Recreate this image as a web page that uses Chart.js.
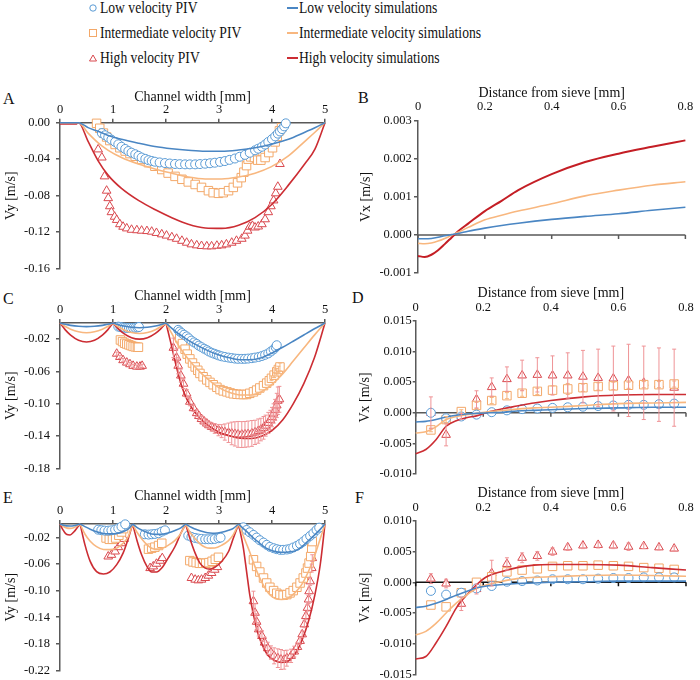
<!DOCTYPE html>
<html>
<head>
<meta charset="utf-8">
<script src="https://cdn.jsdelivr.net/npm/chart.js@4.4.1/dist/chart.umd.min.js"></script>
<style>
  body { margin: 0; background: #fff; overflow: hidden; font-family: 'Liberation Serif', 'Times New Roman', serif; }
  #wrap { position: relative; width: 700px; height: 680px; }
  canvas { position: absolute; }
  .txt { position: absolute; font-size: 16px; line-height: 18px; white-space: nowrap; color: #111; transform: scaleX(0.85); transform-origin: 0 50%; }
  .lab { position: absolute; font-size: 16px; line-height: 18px; color: #111; }
  .mk { position: absolute; }
</style>
</head>
<body>
<div id="wrap">
  <!-- shared legend -->
  <svg class="mk" style="left:88px;top:3px" width="10" height="10"><circle cx="5" cy="5" r="3.2" fill="#fff" stroke="#5a9bd5" stroke-width="1"/></svg>
  <svg class="mk" style="left:88px;top:28px" width="10" height="10"><rect x="1.5" y="1.5" width="7" height="7" fill="#fff" stroke="#f3a869" stroke-width="1"/></svg>
  <svg class="mk" style="left:88px;top:53px" width="10" height="10"><polygon points="5,2 8.5,8 1.5,8" fill="#fff" stroke="#d9484e" stroke-width="1"/></svg>
  <div class="txt" style="left:100px;top:-1px">Low velocity PIV</div>
  <div class="txt" style="left:100px;top:24px">Intermediate velocity PIV</div>
  <div class="txt" style="left:100px;top:49px">High velocity PIV</div>
  <div class="mk" style="left:287px;top:7px;width:11px;height:1.5px;background:#4a86c3"></div>
  <div class="mk" style="left:287px;top:32px;width:11px;height:1.5px;background:#f8b77f"></div>
  <div class="mk" style="left:287px;top:57px;width:11px;height:1.5px;background:#cc2d33"></div>
  <div class="txt" style="left:299px;top:-1px">Low velocity simulations</div>
  <div class="txt" style="left:299px;top:24px">Intermediate velocity simulations</div>
  <div class="txt" style="left:299px;top:49px">High velocity simulations</div>

  <div class="lab" style="left:3px;top:90px">A</div>
  <div class="lab" style="left:358px;top:89px">B</div>
  <div class="lab" style="left:3px;top:290px">C</div>
  <div class="lab" style="left:352px;top:289px">D</div>
  <div class="lab" style="left:3px;top:489px">E</div>
  <div class="lab" style="left:355px;top:489px">F</div>

  <canvas id="cA" width="340" height="200" style="left:0;top:82px"></canvas>
  <canvas id="cB" width="350" height="203" style="left:350px;top:80px"></canvas>
  <canvas id="cC" width="340" height="200" style="left:0;top:282px"></canvas>
  <canvas id="cD" width="350" height="201" style="left:350px;top:283px"></canvas>
  <canvas id="cE" width="340" height="200" style="left:0;top:484px"></canvas>
  <canvas id="cF" width="350" height="200" style="left:350px;top:484px"></canvas>
</div>
<script>
// ---- Panel A: single channel, Vy across channel width ----
const aXTicks = [0, 1, 2, 3, 4, 5];
const aYTicks = [-0.16, -0.12, -0.08, -0.04, 0];
const aSimX = [0, 0.3, 0.35, 0.53, 0.72, 0.91, 1.16, 1.48, 1.79, 2.11, 2.42, 2.74, 3.05, 3.37, 3.68, 3.99, 4.31, 4.62, 4.81, 5];
const aLowSimY = [0, 0, 0, -0.0054, -0.0095, -0.014, -0.0182, -0.0225, -0.0261, -0.0286, -0.0303, -0.0314, -0.0314, -0.03, -0.0275, -0.0236, -0.0182, -0.0104, -0.0055, 0];
const aMidSimY = [0, 0, 0, -0.0114, -0.0221, -0.0303, -0.0382, -0.0453, -0.0507, -0.0554, -0.0596, -0.0618, -0.0618, -0.0596, -0.0554, -0.0482, -0.0364, -0.0204, -0.0105, 0];
const aHighSimY = [-0.0015, -0.0015, 0, -0.0204, -0.0418, -0.0578, -0.0721, -0.0853, -0.0953, -0.1042, -0.1114, -0.1155, -0.116, -0.1125, -0.1042, -0.09, -0.0685, -0.045, -0.029, 0];
const aLowPivX = [0.79, 0.85, 0.91, 0.97, 1.04, 1.10, 1.16, 1.23, 1.29, 1.35, 1.42, 1.48, 1.54, 1.61, 1.67, 1.73, 1.79, 1.88, 1.98, 2.07, 2.17, 2.26, 2.36, 2.45, 2.55, 2.64, 2.74, 2.83, 2.92, 3.02, 3.11, 3.20, 3.30, 3.39, 3.49, 3.58, 3.68, 3.74, 3.81, 3.87, 3.93, 4.00, 4.06, 4.11, 4.15, 4.19, 4.23, 4.26];
const aLowPivY = [-0.0114, -0.0138, -0.0161, -0.0186, -0.0211, -0.0237, -0.0264, -0.0288, -0.0311, -0.0329, -0.0346, -0.0364, -0.0382, -0.0397, -0.0411, -0.042, -0.0428, -0.0436, -0.0443, -0.0448, -0.0453, -0.0455, -0.0457, -0.0457, -0.0457, -0.0454, -0.045, -0.0445, -0.0439, -0.043, -0.0421, -0.0408, -0.0393, -0.0374, -0.0353, -0.033, -0.0303, -0.0285, -0.0264, -0.024, -0.0211, -0.018, -0.015, -0.012, -0.0096, -0.007, -0.004, -0.0007];
const aMidPivX = [0.69, 0.75, 0.82, 0.88, 0.94, 1.04, 1.13, 1.23, 1.32, 1.42, 1.54, 1.67, 1.79, 1.92, 2.04, 2.17, 2.30, 2.42, 2.55, 2.67, 2.80, 2.89, 2.99, 3.08, 3.18, 3.27, 3.35, 3.42, 3.47, 3.52, 3.55, 3.60, 3.67, 3.73, 3.79, 3.87, 3.94, 4.01, 4.06, 4.10, 4.14, 4.18];
const aMidPivY = [-0.0007, -0.0061, -0.0114, -0.0157, -0.0196, -0.0239, -0.0275, -0.0311, -0.0339, -0.0368, -0.0403, -0.0439, -0.0478, -0.0514, -0.0553, -0.0589, -0.0621, -0.065, -0.0678, -0.071, -0.0746, -0.0768, -0.0775, -0.0768, -0.0746, -0.071, -0.066, -0.0603, -0.0543, -0.0471, -0.04, -0.0375, -0.0382, -0.0411, -0.0411, -0.0382, -0.0328, -0.0275, -0.0211, -0.015, -0.0089, -0.0054];
const aHighPivX = [0.72, 0.79, 0.84, 0.88, 0.91, 0.94, 0.97, 1.03, 1.07, 1.13, 1.19, 1.26, 1.35, 1.45, 1.54, 1.64, 1.73, 1.82, 1.92, 2.01, 2.11, 2.20, 2.30, 2.39, 2.48, 2.58, 2.67, 2.77, 2.86, 2.96, 3.05, 3.14, 3.24, 3.33, 3.43, 3.49, 3.54, 3.58, 3.63, 3.68, 3.74, 3.81, 3.87, 3.93, 3.98, 4.03, 4.07, 4.11, 4.15];
const aHighPivY = [-0.0293, -0.0382, -0.0589, -0.0746, -0.0828, -0.0917, -0.0982, -0.1032, -0.1067, -0.1114, -0.1142, -0.116, -0.1175, -0.118, -0.1185, -0.1189, -0.1196, -0.121, -0.1225, -0.1239, -0.1257, -0.1274, -0.1296, -0.1317, -0.1335, -0.1346, -0.1353, -0.1357, -0.1357, -0.135, -0.1346, -0.1335, -0.1317, -0.1296, -0.1274, -0.1239, -0.1185, -0.1142, -0.1132, -0.115, -0.1139, -0.1114, -0.106, -0.0982, -0.0917, -0.0853, -0.0775, -0.0703, -0.0453];

// ---- Panel B: Vx vs distance from sieve (simulations only) ----
const bXTicks = [0, 0.2, 0.4, 0.6, 0.8];
const bYTicks = [-0.001, 0, 0.001, 0.002, 0.003];
const bSimX = [0, 0.02, 0.04, 0.06, 0.08, 0.1, 0.12, 0.15, 0.2, 0.25, 0.3, 0.4, 0.5, 0.6, 0.7, 0.8];
const bLowSimY = [-0.0001, -0.0001, -0.00009, -0.00006, -0.00002, 0.00001, 0.00004, 0.0001, 0.00018, 0.00025, 0.00031, 0.00041, 0.00049, 0.00056, 0.00065, 0.00073];
const bMidSimY = [-0.00022, -0.00023, -0.00021, -0.00016, -0.00009, -0.00001, 0.00007, 0.0002, 0.0004, 0.00052, 0.00063, 0.00082, 0.00103, 0.00118, 0.00131, 0.0014];
const bHighSimY = [-0.00055, -0.00058, -0.00052, -0.0004, -0.00024, -0.00007, 0.0001, 0.0003, 0.00063, 0.0009, 0.00118, 0.0016, 0.00192, 0.00214, 0.00232, 0.00249];

// ---- Panel C: three channels ----
const cYTicks = [-0.18, -0.14, -0.10, -0.06, -0.02];
const cSimX = [0, 0.1, 0.2, 0.35, 0.5, 0.65, 0.8, 0.9, 1, 1, 1, 1.1, 1.2, 1.35, 1.5, 1.65, 1.8, 1.9, 2, 2, 2, 2.1, 2.2, 2.3, 2.4, 2.6, 2.8, 3.0, 3.2, 3.4, 3.6, 3.8, 4.0, 4.2, 4.4, 4.6, 4.8, 5];
const cLowSimY = [0, -0.0016, -0.0029, -0.0041, -0.0045, -0.0041, -0.0029, -0.0016, 0, null, 0, -0.0021, -0.0037, -0.0053, -0.0058, -0.0053, -0.0037, -0.0021, 0, null, 0, -0.006, -0.0115, -0.016, -0.0205, -0.028, -0.0345, -0.0395, -0.043, -0.0455, -0.0455, -0.043, -0.037, -0.03, -0.0225, -0.0148, -0.0072, 0];
const cMidSimY = [0, -0.0043, -0.0077, -0.0109, -0.012, -0.0109, -0.0077, -0.0043, 0, null, 0, -0.0047, -0.0083, -0.0118, -0.013, -0.0118, -0.0083, -0.0047, 0, null, 0, -0.012, -0.024, -0.034, -0.043, -0.058, -0.07, -0.08, -0.086, -0.089, -0.089, -0.085, -0.076, -0.063, -0.047, -0.031, -0.015, 0];
const cHighSimY = [0, -0.0085, -0.015, -0.0214, -0.0235, -0.0214, -0.015, -0.0085, 0, null, 0, -0.0072, -0.0128, -0.0182, -0.02, -0.0182, -0.0128, -0.0072, 0, null, 0, -0.027, -0.055, -0.079, -0.095, -0.115, -0.127, -0.135, -0.1395, -0.1425, -0.1428, -0.14, -0.133, -0.12, -0.1, -0.075, -0.043, 0];
const cLowPivX = [1.10, 1.14, 1.18, 1.22, 1.26, 1.30, 1.34, 1.38, 1.42, 1.46, 1.49,
  2.23, 2.26, 2.30, 2.34, 2.39, 2.43, 2.48, 2.53, 2.58, 2.62, 2.67, 2.72, 2.77, 2.81, 2.86, 2.91, 2.96, 3.00, 3.05, 3.11, 3.18, 3.24, 3.30, 3.36, 3.43, 3.49, 3.55, 3.62, 3.68, 3.75, 3.81, 3.87, 3.93, 3.98, 4.03, 4.07, 4.09];
const cLowPivY = [-0.0045, -0.005, -0.0055, -0.0058, -0.006, -0.006, -0.006, -0.006, -0.0058, -0.0055, -0.005,
  -0.0085, -0.0105, -0.0125, -0.0145, -0.0166, -0.019, -0.0218, -0.024, -0.0259, -0.028, -0.0299, -0.0318, -0.0335, -0.0352, -0.0368, -0.038, -0.0392, -0.0402, -0.0412, -0.042, -0.0428, -0.0434, -0.044, -0.0443, -0.0444, -0.0443, -0.044, -0.0435, -0.0428, -0.042, -0.0408, -0.0393, -0.0376, -0.0352, -0.0327, -0.03, -0.0275];
const cMidPivX = [1.14, 1.18, 1.22, 1.26, 1.30, 1.34, 1.38, 1.42, 1.46, 1.48,
  2.26, 2.31, 2.36, 2.40, 2.45, 2.50, 2.55, 2.60, 2.64, 2.70, 2.77, 2.83, 2.89, 2.96, 3.02, 3.08, 3.15, 3.21, 3.27, 3.34, 3.40, 3.46, 3.52, 3.58, 3.65, 3.71, 3.77, 3.84, 3.90, 3.95, 3.99, 4.04, 4.09, 4.12, 4.15];
const cMidPivY = [-0.021, -0.023, -0.025, -0.026, -0.027, -0.028, -0.029, -0.0295, -0.03, -0.03,
  -0.0184, -0.0255, -0.0324, -0.0385, -0.0444, -0.0495, -0.0544, -0.0585, -0.0624, -0.0665, -0.0704, -0.0735, -0.0764, -0.0795, -0.0824, -0.084, -0.0852, -0.0865, -0.0876, -0.0881, -0.0884, -0.0885, -0.0884, -0.087, -0.0852, -0.083, -0.0804, -0.0775, -0.0744, -0.0715, -0.0684, -0.0645, -0.0604, -0.0575, -0.0544];
const cMidErr = [0, 0, 0, 0, 0, 0, 0, 0, 0, 0, 0, 0, 0, 0, 0, 0, 0, 0, 0, 0, 0, 0, 0, 0, 0, 0, 0, 0, 0, 0, 0, 0, 0, 0, 0, 0, 0, 0, 0, 0, 0.003, 0.003, 0.004, 0.004, 0.005];
const cHighPivX = [1.07, 1.13, 1.19, 1.26, 1.32, 1.38, 1.45, 1.51, 1.55,
  2.14, 2.20, 2.23, 2.28, 2.33, 2.39, 2.45, 2.52, 2.58, 2.62, 2.67, 2.72, 2.77, 2.81, 2.86, 2.92, 2.99, 3.05, 3.11, 3.18, 3.24, 3.30, 3.36, 3.43, 3.49, 3.55, 3.62, 3.68, 3.74, 3.79, 3.84, 3.88, 3.93, 3.97, 4.00, 4.03, 4.06, 4.09, 4.11, 4.14];
const cHighPivY = [-0.038, -0.042, -0.046, -0.049, -0.051, -0.053, -0.054, -0.054, -0.053,
  -0.0307, -0.0428, -0.0529, -0.065, -0.0751, -0.0873, -0.0974, -0.1054, -0.1115, -0.115, -0.1188, -0.1218, -0.1244, -0.1265, -0.1285, -0.1305, -0.1325, -0.1338, -0.1349, -0.1358, -0.1366, -0.1372, -0.1378, -0.138, -0.1378, -0.1373, -0.1366, -0.1353, -0.1337, -0.1318, -0.1297, -0.127, -0.1236, -0.12, -0.1164, -0.112, -0.1075, -0.102, -0.0962, -0.0944];
const cHighErr = [0.002, 0.002, 0.002, 0.002, 0.002, 0.002, 0.002, 0.002, 0.002,
  0.012, 0.011, 0.01, 0.008, 0.006, 0.005, 0.005, 0.004, 0.004, 0.004, 0.004, 0.004, 0.004, 0.004, 0.005, 0.006, 0.007, 0.008, 0.01, 0.012, 0.014, 0.015, 0.016, 0.016, 0.016, 0.016, 0.016, 0.015, 0.015, 0.014, 0.014, 0.013, 0.013, 0.012, 0.012, 0.012, 0.013, 0.015, 0.017, 0.016];

// ---- Panel D ----
const dYTicks = [-0.01, -0.005, 0, 0.005, 0.01, 0.015];
const dPivX = [0.045, 0.09, 0.135, 0.18, 0.225, 0.27, 0.315, 0.36, 0.405, 0.45, 0.495, 0.54, 0.585, 0.63, 0.675, 0.72, 0.765];
const dLowPivY = [0, -0.0009, -0.0006, -0.0003, 0.0001, 0.0004, 0.0006, 0.0007, 0.0008, 0.0009, 0.001, 0.0011, 0.0012, 0.0013, 0.0013, 0.0014, 0.0015];
const dMidPivY = [-0.0028, -0.0011, 0.0002, 0.0012, 0.002, 0.0028, 0.0032, 0.0035, 0.0037, 0.0039, 0.0041, 0.0043, 0.0044, 0.0045, 0.0046, 0.0046, 0.0047];
const dHighPivY = [0, -0.0036, -0.0006, 0.0022, 0.0042, 0.0055, 0.0061, 0.0062, 0.0061, 0.0061, 0.0059, 0.0057, 0.0056, 0.0053, 0.0049, 0.0046, 0.0041];
const dMidErr = [0.0003, 0.0005, 0.0003, 0.0005, 0.0005, 0.0005, 0.0005, 0.0005, 0.0007, 0.0009, 0.0006, 0.0006, 0.0006, 0.0005, 0.0005, 0.0005, 0.0005];
const dHighErr = [0.0026, 0.0018, 0.0005, 0.0014, 0.0015, 0.002, 0.0025, 0.0028, 0.0032, 0.0037, 0.0043, 0.0047, 0.0053, 0.0059, 0.006, 0.006, 0.0063];
const dSimX = [0, 0.03, 0.06, 0.09, 0.12, 0.15, 0.18, 0.22, 0.26, 0.3, 0.35, 0.4, 0.5, 0.6, 0.7, 0.8];
const dLowSimY = [-0.0015, -0.0014, -0.0011, -0.0007, -0.0004, -0.0002, -0.0001, 0, 0.0001, 0.0003, 0.0004, 0.0005, 0.0007, 0.0008, 0.0009, 0.0009];
const dMidSimY = [-0.0033, -0.0031, -0.0023, -0.0011, -0.0006, -0.0003, -0.0001, 0.0002, 0.0004, 0.0006, 0.0008, 0.0009, 0.0012, 0.0015, 0.0016, 0.0017];
const dHighSimY = [-0.0067, -0.006, -0.0044, -0.0022, -0.0013, -0.0008, -0.0005, 0.0002, 0.0007, 0.0011, 0.0016, 0.002, 0.0026, 0.0029, 0.003, 0.003];

// ---- Panel E: five channels ----
const eYTicks = [-0.22, -0.18, -0.14, -0.10, -0.06, -0.02];
const eSimX = [0, 0.05, 0.12, 0.19, 0.26, 0.33, 0.38, 0.38,
  0.38, 0.47, 0.57, 0.69, 0.82, 0.94, 1.07, 1.19, 1.29, 1.37, 1.37,
  1.37, 1.45, 1.54, 1.64, 1.73, 1.82, 1.92, 2.04, 2.17, 2.28, 2.37, 2.37,
  2.37, 2.45, 2.55, 2.64, 2.74, 2.83, 2.92, 3.05, 3.18, 3.27, 3.37, 3.37,
  3.37, 3.46, 3.52, 3.58, 3.65, 3.74, 3.84, 3.93, 4.06, 4.18, 4.31, 4.43, 4.56, 4.69, 4.81, 4.91, 5];
const eLowSimY = [0, -0.0015, -0.0028, -0.003, -0.0026, -0.0012, 0, null,
  0, -0.004, -0.0078, -0.0115, -0.0142, -0.0149, -0.0143, -0.0115, -0.0075, 0, null,
  0, -0.005, -0.009, -0.0125, -0.0149, -0.0156, -0.0154, -0.0135, -0.0098, -0.0058, 0, null,
  0, -0.004, -0.0075, -0.0102, -0.0124, -0.0135, -0.0139, -0.0125, -0.0095, -0.0065, 0, null,
  0, -0.007, -0.011, -0.016, -0.021, -0.027, -0.0335, -0.038, -0.0415, -0.0425, -0.042, -0.0405, -0.0345, -0.025, -0.016, -0.008, 0];
const eMidSimY = [0, -0.003, -0.0058, -0.0065, -0.0055, -0.0025, 0, null,
  0, -0.015, -0.026, -0.034, -0.0383, -0.0385, -0.0362, -0.029, -0.0185, 0, null,
  0, -0.012, -0.022, -0.031, -0.0363, -0.0377, -0.0368, -0.032, -0.0245, -0.014, 0, null,
  0, -0.012, -0.022, -0.03, -0.0348, -0.0362, -0.036, -0.032, -0.025, -0.016, 0, null,
  0, -0.018, -0.03, -0.042, -0.058, -0.076, -0.092, -0.1035, -0.112, -0.1134, -0.111, -0.1035, -0.091, -0.071, -0.0463, -0.022, 0];
const eHighSimY = [0, -0.008, -0.0155, -0.0165, -0.012, -0.005, 0, null,
  0, -0.031, -0.0562, -0.0716, -0.0751, -0.0721, -0.061, -0.0438, -0.0214, 0, null,
  0, -0.0239, -0.0463, -0.0637, -0.0721, -0.0721, -0.0662, -0.0512, -0.0338, -0.0139, 0, null,
  0, -0.0214, -0.0438, -0.0587, -0.0662, -0.0677, -0.0652, -0.0562, -0.0413, -0.0214, 0, null,
  0, -0.0363, -0.0711, -0.106, -0.136, -0.1657, -0.1856, -0.198, -0.2055, -0.208, -0.2055, -0.1955, -0.1756, -0.1458, -0.106, -0.0612, 0];
const eLowPivX = [0.72, 0.78, 0.84, 0.91, 0.97, 1.04, 1.10, 1.16, 1.23,
  1.60, 1.67, 1.73, 1.79, 1.86, 1.92, 1.98,
  2.42, 2.48, 2.55, 2.61, 2.67, 2.74, 2.80, 2.86, 2.92, 2.99, 3.03,
  3.46, 3.52, 3.58, 3.65, 3.71, 3.77, 3.84, 3.90, 3.96, 4.03, 4.09, 4.15, 4.21, 4.28, 4.34, 4.40, 4.47, 4.53, 4.59, 4.65, 4.72, 4.78, 4.84, 4.89];
const eLowPivY = [-0.0085, -0.0093, -0.0099, -0.01, -0.0095, -0.0085, -0.0065, -0.004, -0.0005,
  -0.0154, -0.0159, -0.0154, -0.0149, -0.0139, -0.0114, -0.0095,
  -0.0174, -0.0194, -0.0209, -0.0219, -0.0224, -0.0229, -0.0229, -0.0229, -0.0224, -0.0214, -0.0204,
  -0.005, -0.009, -0.0124, -0.0164, -0.0204, -0.0244, -0.0279, -0.0313, -0.0343, -0.0363, -0.0378, -0.0388, -0.0388, -0.0383, -0.0373, -0.0353, -0.0328, -0.0299, -0.0264, -0.0224, -0.0179, -0.0139, -0.009, -0.0055];
const eMidPivX = [0.87, 0.93, 0.99, 1.05, 1.11, 1.16, 1.20,
  1.67, 1.73, 1.79, 1.86, 1.92,
  2.45, 2.51, 2.57, 2.63, 2.69, 2.75, 2.81, 2.87, 2.93, 2.99,
  3.65, 3.71, 3.77, 3.84, 3.90, 3.96, 4.03, 4.09, 4.15, 4.21, 4.28, 4.34, 4.40, 4.47, 4.53, 4.59, 4.64, 4.67, 4.70, 4.73, 4.75, 4.76];
const eMidPivY = [-0.021, -0.023, -0.023, -0.021, -0.017, -0.012, -0.007,
  -0.0378, -0.0363, -0.0348, -0.0323, -0.0289,
  -0.055, -0.057, -0.058, -0.059, -0.059, -0.059, -0.058, -0.056, -0.053, -0.05,
  -0.0537, -0.0637, -0.0721, -0.0811, -0.0886, -0.095, -0.1, -0.104, -0.106, -0.107, -0.106, -0.1035, -0.1, -0.095, -0.0886, -0.0811, -0.0736, -0.0662, -0.0587, -0.0488, -0.0363, -0.0264];
const eHighPivX = [0.91, 0.97, 1.04, 1.10, 1.16, 1.21,
  1.70, 1.76, 1.82, 1.89, 1.93,
  2.48, 2.55, 2.61, 2.67, 2.74, 2.80, 2.86, 2.92, 2.97,
  3.65, 3.68, 3.71, 3.75, 3.81, 3.86, 3.92, 3.98, 4.04, 4.11, 4.17, 4.23, 4.28, 4.36, 4.42, 4.48, 4.53, 4.57, 4.61, 4.64, 4.67, 4.69, 4.70, 4.72, 4.75, 4.76];
const eHighPivY = [-0.0488, -0.0463, -0.0413, -0.0348, -0.0289, -0.0224,
  -0.0662, -0.0637, -0.0597, -0.0552, -0.0512,
  -0.0811, -0.0836, -0.0846, -0.0836, -0.0811, -0.0776, -0.0736, -0.0687, -0.0647,
  -0.1159, -0.1333, -0.1468, -0.1582, -0.1682, -0.1781, -0.1866, -0.193, -0.198, -0.2015, -0.2035, -0.204, -0.2015, -0.198, -0.1915, -0.1846, -0.1756, -0.1657, -0.1507, -0.1383, -0.1259, -0.1134, -0.101, -0.0861, -0.0662, -0.0512];
const eHighErr = [0, 0, 0, 0, 0, 0, 0, 0, 0, 0, 0, 0, 0, 0, 0, 0, 0, 0, 0, 0,
  0.015, 0.014, 0.012, 0.01, 0.008, 0.008, 0.009, 0.01, 0.012, 0.014, 0.015, 0.014, 0.012, 0.01, 0.008, 0.006, 0.005, 0.005, 0.005, 0.005, 0.005, 0.006, 0.006, 0.006, 0.006, 0.005];

// ---- Panel F ----
const fYTicks = [-0.015, -0.01, -0.005, 0, 0.005, 0.01];
const fLowPivY = [-0.0014, -0.002, -0.0017, -0.001, -0.0006, 0.0001, 0.0002, 0.0003, 0.0005, 0.0005, 0.0005, 0.0006, 0.0007, 0.0007, 0.0008, 0.0008, 0.0008];
const fMidPivY = [-0.0037, -0.004, -0.0017, 0, 0.0009, 0.0017, 0.002, 0.0022, 0.0026, 0.0027, 0.0027, 0.0028, 0.0027, 0.0026, 0.0024, 0.0023, 0.0021];
const fHighPivY = [0.0006, -0.0002, -0.0035, -0.0011, 0.0015, 0.003, 0.004, 0.0043, 0.005, 0.0057, 0.006, 0.0061, 0.006, 0.0058, 0.0059, 0.0057, 0.0055];
const fHighErr = [0.0008, 0.0007, 0.0011, 0.0008, 0.0021, 0.001, 0.0008, 0.0007, 0.0006, 0.0005, 0.0005, 0.0005, 0.0005, 0.0006, 0.0004, 0.0004, 0.0004];
const fSimX = [0, 0.03, 0.06, 0.09, 0.12, 0.15, 0.18, 0.21, 0.25, 0.3, 0.35, 0.4, 0.5, 0.6, 0.7, 0.8];
const fLowSimY = [-0.0041, -0.0039, -0.0034, -0.0028, -0.0021, -0.0015, -0.0009, -0.0006, -0.0004, -0.0002, -0.0001, 0, 0.0001, 0.0002, 0.0002, 0.0002];
const fMidSimY = [-0.0086, -0.008, -0.0067, -0.005, -0.0034, -0.0021, -0.001, -0.0004, 0.0001, 0.0006, 0.0008, 0.0009, 0.0011, 0.0012, 0.0011, 0.001];
const fHighSimY = [-0.0125, -0.0121, -0.0099, -0.0072, -0.0042, -0.0021, -0.0004, 0.0009, 0.0017, 0.0024, 0.0028, 0.0029, 0.0029, 0.0028, 0.0024, 0.002];

// colours
const FONT = "'Liberation Serif', 'Times New Roman', serif";
const AXIS = '#595959';
const TEXT = '#111';
const LOW_LINE = '#4a86c3', MID_LINE = '#f8b77f', HIGH_LINE = '#cc2d33';
const LOW_MK = '#5a9bd5', MID_MK = '#f3a869', HIGH_MK = '#d9484e';
const HIGH_ERR = '#ef9396', MID_ERR = '#f6b47c';

const pts = (xs, ys) => xs.map((x, i) => ({ x: x, y: ys[i] }));

function simLine(xs, ys, color, w) {
  return {
    data: pts(xs, ys), showLine: true, borderColor: color, borderWidth: w || 1.6,
    pointRadius: 0, cubicInterpolationMode: 'monotone', spanGaps: false, clip: false
  };
}

function piv(xs, ys, style, color, r, err, errColor) {
  return {
    data: pts(xs, ys), showLine: false, pointStyle: style, pointRadius: r,
    pointBorderColor: color, pointBackgroundColor: '#fff', pointBorderWidth: 1,
    clip: false, err: err, errColor: errColor
  };
}

// error bars drawn through the chart's scales
const errorBars = {
  id: 'errorBars',
  afterDatasetsDraw(chart) {
    const { ctx, scales: { x, y } } = chart;
    chart.data.datasets.forEach(ds => {
      if (!ds.err) return;
      ctx.save();
      ctx.strokeStyle = ds.errColor;
      ctx.lineWidth = 1;
      ds.data.forEach((p, j) => {
        const e = ds.err[j];
        if (!e) return;
        const px = x.getPixelForValue(p.x);
        const y1 = y.getPixelForValue(p.y + e);
        const y2 = y.getPixelForValue(p.y - e);
        ctx.beginPath();
        ctx.moveTo(px, y1); ctx.lineTo(px, y2);
        ctx.moveTo(px - 2, y1); ctx.lineTo(px + 2, y1);
        ctx.moveTo(px - 2, y2); ctx.lineTo(px + 2, y2);
        ctx.stroke();
      });
      ctx.restore();
    });
  }
};

// Excel-like horizontal axis crossing at zero (panels B, D, F)
const zeroLine = {
  id: 'zeroLine',
  beforeDatasetsDraw(chart, args, opts) {
    if (!opts.color) return;
    const { ctx, chartArea, scales: { x, y } } = chart;
    const py = y.getPixelForValue(0);
    ctx.save();
    ctx.strokeStyle = opts.color;
    ctx.lineWidth = 1.5;
    ctx.beginPath();
    ctx.moveTo(chartArea.left, py);
    ctx.lineTo(chartArea.right, py);
    x.ticks.forEach(t => {
      const px = x.getPixelForValue(t.value);
      ctx.moveTo(px, py); ctx.lineTo(px, py + 4);
    });
    ctx.stroke();
    ctx.restore();
  }
};

function makePanel(id, o) {
  const tickFont = { family: FONT, size: 12.5 };
  const titleFont = { family: FONT, size: 14 };
  return new Chart(document.getElementById(id), {
    type: 'scatter',
    data: { datasets: o.datasets },
    options: {
      responsive: false,
      animation: false,
      events: [],
      layout: { padding: { left: 0, top: 0, right: o.padRight, bottom: o.padBottom } },
      plugins: {
        legend: { display: false },
        tooltip: { enabled: false },
        zeroLine: { color: o.zeroColor || null }
      },
      scales: {
        x: {
          type: 'linear', position: 'top', min: o.xMin, max: o.xMax,
          afterBuildTicks: s => { s.ticks = o.xTicks.map(v => ({ value: v })); },
          afterFit: s => { s.height = o.xH; },
          border: { display: o.xLine, color: AXIS, width: 1.5 },
          grid: { display: o.xLine, drawOnChartArea: false, drawTicks: o.xLine, tickLength: 4, color: AXIS, lineWidth: 1.5 },
          ticks: { font: tickFont, color: TEXT, padding: o.xTickPad, maxRotation: 0, autoSkip: false, callback: o.xFmt },
          title: { display: true, text: o.xTitle, font: titleFont, color: TEXT, padding: { top: o.xTitlePad, bottom: 0 } }
        },
        y: {
          type: 'linear', position: 'left', min: o.yMin, max: o.yMax,
          afterBuildTicks: s => { s.ticks = o.yTicks.map(v => ({ value: v })); },
          afterFit: s => { s.width = o.yW; },
          border: { display: true, color: AXIS, width: 1.5 },
          grid: { display: true, drawOnChartArea: false, drawTicks: true, tickLength: o.yTickLen, color: AXIS, lineWidth: 1.5 },
          ticks: { font: tickFont, color: TEXT, padding: o.yTickPad, autoSkip: false, callback: v => v.toFixed(o.yDigits) },
          title: { display: true, text: 'Vy [m/s]'.replace('Vy', o.yName), font: titleFont, color: TEXT, padding: { top: o.yTitlePad, bottom: 0 } }
        }
      }
    },
    plugins: [zeroLine, errorBars]
  });
}

const fmtInt = v => String(v);
const fmtDist = v => (v === 0 ? '0' : v.toFixed(1));

makePanel('cA', {
  xMin: 0, xMax: 5, xTicks: aXTicks, xFmt: fmtInt, xTitle: 'Channel width [mm]', xH: 40.7, xTitlePad: 6.6, xTickPad: 1.2, xLine: true,
  yMin: -0.16, yMax: 0, yTicks: aYTicks, yDigits: 2, yW: 60, yName: 'Vy', yTitlePad: 2.6, yTickLen: 4, yTickPad: 6,
  padRight: 15, padBottom: 10,
  datasets: [
    simLine(aSimX, aLowSimY, LOW_LINE), simLine(aSimX, aMidSimY, MID_LINE), simLine(aSimX, aHighSimY, HIGH_LINE),
    piv(aLowPivX, aLowPivY, 'circle', LOW_MK, 4.5), piv(aMidPivX, aMidPivY, 'rect', MID_MK, 6), piv(aHighPivX, aHighPivY, 'triangle', HIGH_MK, 5)
  ]
});

makePanel('cB', {
  xMin: 0, xMax: 0.8, xTicks: bXTicks, xFmt: fmtDist, xTitle: 'Distance from sieve [mm]', xH: 41, xTitlePad: 4.9, xTickPad: 6.8, xLine: false,
  yMin: -0.001, yMax: 0.003, yTicks: bYTicks, yDigits: 3, yW: 68, yName: 'Vx', yTitlePad: 8.3, yTickLen: 4, yTickPad: 2.3,
  padRight: 9.3, padBottom: 10, zeroColor: AXIS,
  datasets: [
    simLine(bSimX, bLowSimY, LOW_LINE), simLine(bSimX, bMidSimY, MID_LINE), simLine(bSimX, bHighSimY, '#c41e25', 2)
  ]
});

makePanel('cC', {
  xMin: 0, xMax: 5, xTicks: aXTicks, xFmt: fmtInt, xTitle: 'Channel width [mm]', xH: 41, xTitlePad: 6.3, xTickPad: 1.5, xLine: true,
  yMin: -0.18, yMax: 0, yTicks: cYTicks, yDigits: 2, yW: 60, yName: 'Vy', yTitlePad: 2.6, yTickLen: 4, yTickPad: 6,
  padRight: 15, padBottom: 10,
  datasets: [
    simLine(cSimX, cLowSimY, LOW_LINE), simLine(cSimX, cMidSimY, MID_LINE), simLine(cSimX, cHighSimY, HIGH_LINE),
    piv(cLowPivX, cLowPivY, 'circle', LOW_MK, 4.5), piv(cMidPivX, cMidPivY, 'rect', MID_MK, 6, cMidErr, MID_ERR),
    piv(cHighPivX, cHighPivY, 'triangle', HIGH_MK, 5, cHighErr, HIGH_ERR)
  ]
});

makePanel('cD', {
  xMin: 0, xMax: 0.8, xTicks: bXTicks, xFmt: fmtDist, xTitle: 'Distance from sieve [mm]', xH: 38, xTitlePad: 1.9, xTickPad: 6.2, xLine: false,
  yMin: -0.01, yMax: 0.015, yTicks: dYTicks, yDigits: 3, yW: 65.7, yName: 'Vx', yTitlePad: 6.6, yTickLen: 3, yTickPad: 1,
  padRight: 8.3, padBottom: 10, zeroColor: AXIS,
  datasets: [
    simLine(dSimX, dLowSimY, LOW_LINE), simLine(dSimX, dMidSimY, MID_LINE), simLine(dSimX, dHighSimY, HIGH_LINE),
    piv(dPivX, dLowPivY, 'circle', LOW_MK, 4.5), piv(dPivX, dMidPivY, 'rect', MID_MK, 6, dMidErr, MID_ERR),
    piv(dPivX, dHighPivY, 'triangle', HIGH_MK, 5, dHighErr, HIGH_ERR)
  ]
});

makePanel('cE', {
  xMin: 0, xMax: 5, xTicks: aXTicks, xFmt: fmtInt, xTitle: 'Channel width [mm]', xH: 40, xTitlePad: 4.3, xTickPad: 1.8, xLine: true,
  yMin: -0.22, yMax: 0, yTicks: eYTicks, yDigits: 2, yW: 60, yName: 'Vy', yTitlePad: 2.6, yTickLen: 4, yTickPad: 6,
  padRight: 15, padBottom: 12.3,
  datasets: [
    simLine(eSimX, eLowSimY, LOW_LINE), simLine(eSimX, eMidSimY, MID_LINE), simLine(eSimX, eHighSimY, HIGH_LINE),
    piv(eLowPivX, eLowPivY, 'circle', LOW_MK, 4.5), piv(eMidPivX, eMidPivY, 'rect', MID_MK, 6),
    piv(eHighPivX, eHighPivY, 'triangle', HIGH_MK, 5, eHighErr, HIGH_ERR)
  ]
});

makePanel('cF', {
  xMin: 0, xMax: 0.8, xTicks: bXTicks, xFmt: fmtDist, xTitle: 'Distance from sieve [mm]', xH: 37, xTitlePad: 0.9, xTickPad: 6.2, xLine: false,
  yMin: -0.015, yMax: 0.01, yTicks: fYTicks, yDigits: 3, yW: 65.7, yName: 'Vx', yTitlePad: 6.6, yTickLen: 3, yTickPad: 1,
  padRight: 8.3, padBottom: 9.7, zeroColor: '#111',
  datasets: [
    simLine(fSimX, fLowSimY, LOW_LINE), simLine(fSimX, fMidSimY, MID_LINE), simLine(fSimX, fHighSimY, HIGH_LINE),
    piv(dPivX, fLowPivY, 'circle', LOW_MK, 4.5), piv(dPivX, fMidPivY, 'rect', MID_MK, 6),
    piv(dPivX, fHighPivY, 'triangle', HIGH_MK, 5, fHighErr, HIGH_ERR)
  ]
});
</script>
</body>
</html>
